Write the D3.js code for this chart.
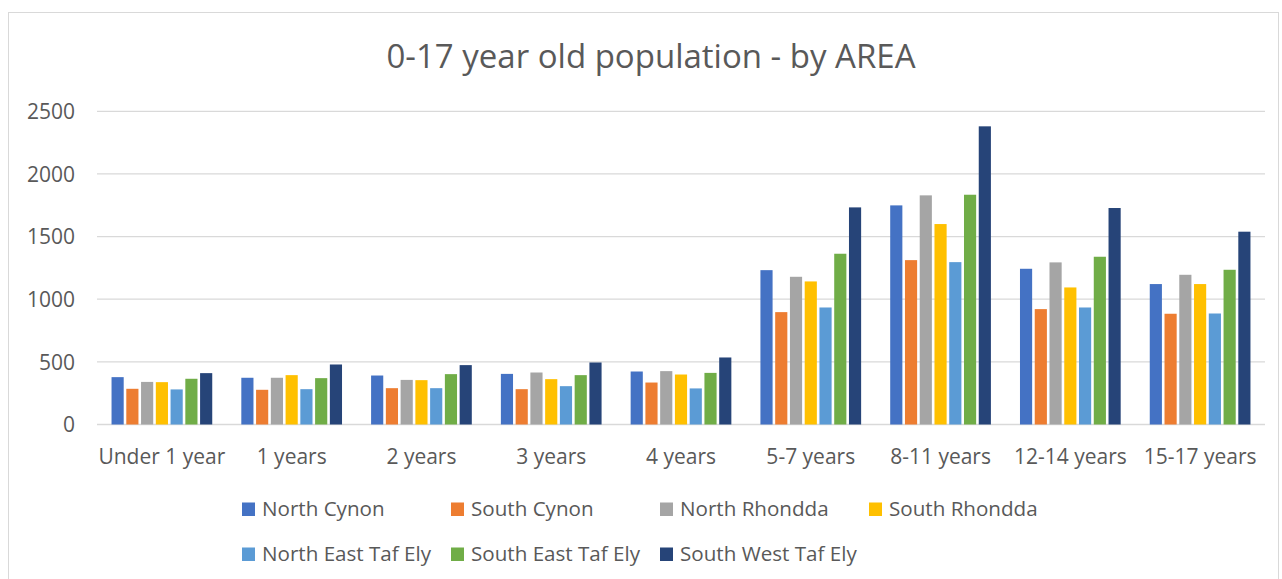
<!DOCTYPE html>
<html><head><meta charset="utf-8">
<script src="https://cdn.jsdelivr.net/npm/d3@7"></script>
<style>body{margin:0;background:#fff}svg{display:block}text{font-family:"Open Sans",sans-serif;fill:#595959}</style>
</head><body><svg id="c" width="1282" height="579"></svg>
<script>
const categories = ["Under 1 year","1 years","2 years","3 years","4 years","5-7 years","8-11 years","12-14 years","15-17 years"];
const seriesNames = ["North Cynon","South Cynon","North Rhondda","South Rhondda","North East Taf Ely","South East Taf Ely","South West Taf Ely"];
const northCynon     = [378, 373, 391, 404, 423, 1232, 1749, 1243, 1121];
const southCynon     = [285, 277, 290, 282, 335, 897, 1312, 921, 884];
const northRhondda   = [340, 373, 356, 415, 426, 1179, 1829, 1294, 1195];
const southRhondda   = [338, 394, 354, 362, 399, 1142, 1600, 1094, 1121];
const northEastTaf   = [280, 282, 290, 306, 288, 934, 1296, 934, 886];
const southEastTaf   = [365, 370, 402, 394, 412, 1363, 1834, 1339, 1235];
const southWestTaf   = [410, 479, 474, 495, 535, 1733, 2380, 1728, 1539];
const yTicks = [0, 500, 1000, 1500, 2000, 2500];
const title = "0-17 year old population - by AREA";

const series = [northCynon, southCynon, northRhondda, southRhondda, northEastTaf, southEastTaf, southWestTaf];
const colors = ["#4472C4","#ED7D31","#A5A5A5","#FFC000","#5B9BD5","#70AD47","#264478"];

const svg = d3.select("#c");
svg.append("rect").attr("x",8.5).attr("y",12.5).attr("width",1270).attr("height",600)
  .attr("fill","#fff").attr("stroke","#d9d9d9").attr("stroke-width",1);

const pLeft = 97, pRight = 1265, pTop = 111.3, pBottom = 424.5;
const x0 = d3.scaleBand().domain(categories).range([pLeft, pRight]).paddingInner(0.204).paddingOuter(0.102);
const x1 = d3.scaleBand().domain(d3.range(series.length)).range([0, x0.bandwidth()]);
const y = d3.scaleLinear().domain([0, 2500]).range([pBottom, pTop]);

svg.append("text").attr("x", 651).attr("y", 68).attr("text-anchor","middle")
  .style("font-size","33px").text(title);

// gridlines
svg.append("g").selectAll("line").data(yTicks).join("line")
  .attr("x1", pLeft).attr("x2", pRight)
  .attr("y1", d => y(d)).attr("y2", d => y(d))
  .attr("stroke", "#d9d9d9").attr("stroke-width", 1.3);

// y axis labels
const yAxis = d3.axisLeft(y).tickValues(yTicks).tickSize(0).tickPadding(0).tickFormat(d3.format("d"));
const gy = svg.append("g").attr("transform", `translate(75,0)`).call(yAxis);
gy.select(".domain").remove();
gy.selectAll("text").style("font-size","21px").style("font-family","'Open Sans',sans-serif").attr("fill","#595959").attr("dy","0.35em");

// bars
const groups = svg.append("g").selectAll("g").data(categories).join("g")
  .attr("transform", d => `translate(${x0(d)},0)`);
groups.selectAll("rect").data((c, i) => series.map((s, k) => ({k, v: s[i]}))).join("rect")
  .attr("x", d => x1(d.k) + 1.3)
  .attr("width", x1.bandwidth() - 2.6)
  .attr("y", d => y(d.v))
  .attr("height", d => y(0) - y(d.v))
  .attr("fill", d => colors[d.k]);

// x axis labels
const xAxis = d3.axisBottom(x0).tickSize(0).tickPadding(0);
const gx = svg.append("g").attr("transform", `translate(0,${pBottom})`).call(xAxis);
gx.select(".domain").remove();
gx.selectAll("text").style("font-size","21px").style("font-family","'Open Sans',sans-serif").attr("fill","#595959").attr("dy",0).attr("y", 39);

// legend
const legendCols = [242, 451, 660, 869];
const legendRows = [516, 561];
const lg = svg.append("g").selectAll("g").data(seriesNames).join("g")
  .attr("transform", (d, i) => `translate(${legendCols[i < 4 ? i : i - 4]},${legendRows[i < 4 ? 0 : 1]})`);
lg.append("rect").attr("x", 0).attr("y", -13.5).attr("width", 13).attr("height", 13.5)
  .attr("fill", (d, i) => colors[i]);
lg.append("text").attr("x", 20).attr("y", 0).style("font-size","20.6px").text(d => d);
</script></body></html>
